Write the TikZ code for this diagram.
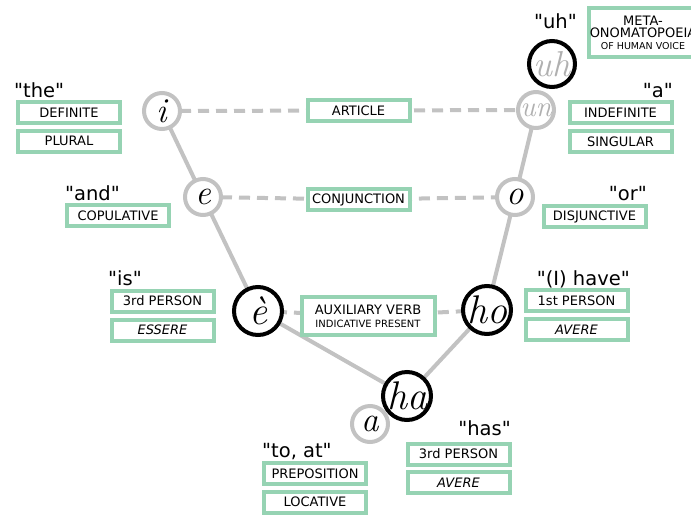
\documentclass[tikz,border=0pt]{standalone}
\usepackage{fontspec}
\defaultfontfeatures[\sffamily]{}
\setsansfont{DejaVu Sans}
\newfontfamily\qfont{DejaVu Sans}
\definecolor{boxgreen}{HTML}{96D3B3}
\definecolor{linegray}{HTML}{C2C2C2}
\definecolor{txtgray}{HTML}{B0B0B0}
\pgfdeclarelayer{bg}
\pgfsetlayers{bg,main}
\tikzset{
  wordbox/.style={draw=boxgreen, line width=4pt, fill=white, minimum width=102pt, minimum height=21pt, inner sep=0pt, font=\sffamily\fontsize{13}{14}\selectfont},
  quote/.style={font=\qfont\fontsize{19.5}{22}\selectfont, inner sep=0pt},
  gcirc/.style={circle, draw=linegray, line width=4pt, fill=white, minimum size=36pt, inner sep=0pt},
  bcirc/.style={circle, draw=black, line width=4pt, fill=white, minimum size=48pt, inner sep=0pt},
  gletter/.style={font=\fontsize{35}{35}\selectfont\itshape, inner sep=0pt},
  bletter/.style={font=\fontsize{40}{40}\selectfont\itshape, inner sep=0pt},
  solidline/.style={draw=linegray, line width=4pt},
  dashline/.style={draw=linegray, line width=4pt, dash pattern=on 11pt off 7pt},
}
\begin{document}
\begin{tikzpicture}[x=1pt,y=-1pt]
\useasboundingbox (0,0) rectangle (691,515);

% circles
\node[gcirc, label={[gletter]center:i}] (i) at (162,111) {};
\node[gcirc, label={[gletter]center:e}] (e) at (203,197) {};
\node[bcirc, label={[bletter]center:è}] (egrave) at (258,311) {};
\node[gcirc, label={[gletter]center:a}] (a) at (370,424) {};
\node[bcirc, label={[bletter]center:ha}] (ha) at (407,396) {};
\node[gcirc, label={[gletter, font=\fontsize{29}{29}\selectfont\itshape, text=txtgray]center:un}] (un) at (536,110) {};
\node[bcirc, minimum size=46pt, label={[gletter, font=\fontsize{36}{36}\selectfont\itshape, text=txtgray]center:uh}] (uh) at (552,64) {};
\node[gcirc, label={[gletter]center:o}] (o) at (515,197) {};
\node[bcirc, label={[bletter]center:ho}] (ho) at (487,310) {};

% middle boxes
\node[wordbox] (article) at (358.5,110.5) {ARTICLE};
\node[wordbox] (conj) at (358.5,199.5) {CONJUNCTION};
\node[wordbox, minimum width=133pt, minimum height=38pt, align=center] (aux) at (368,316)
  {\fontsize{13}{14}\selectfont AUXILIARY VERB\\[-1pt]\fontsize{10}{11}\selectfont INDICATIVE PRESENT};

% connectors
\begin{pgfonlayer}{bg}
\fill[white] (0,0) rectangle (691,515);
\draw[solidline] (i.center) -- (e.center) -- (egrave.center) -- (ha.center);
\draw[solidline] (un.center) -- (o.center) -- (ho.center) -- (ha.center);
\draw[dashline] (i.center) -- (article.center) -- (un.center);
\draw[dashline] (e.center) -- (conj.center) -- (o.center);
\draw[dashline] (egrave.center) -- (aux.center) -- (ho.center);
\end{pgfonlayer}

% left side
\node[quote, anchor=base west] (the) at (14,97) {"the"};
\node[wordbox] (definite) at (69,112.5) {DEFINITE};
\node[wordbox] (plural) at (69,141) {PLURAL};
\node[quote, anchor=base west] (and) at (65,200) {"and"};
\node[wordbox] (copul) at (118,215.5) {COPULATIVE};
\node[quote, anchor=base west] (is) at (108,285) {"is"};
\node[wordbox] (third1) at (162.5,301) {3rd PERSON};
\node[wordbox, font=\sffamily\itshape\fontsize{13}{14}\selectfont] (essere) at (162.5,330) {ESSERE};

% right side
\node[quote, anchor=base east] (uhq) at (577,28) {"uh"};
\node[wordbox, minimum width=108pt, minimum height=49pt, align=center, anchor=west] (meta) at (587,32.5)
  {META-\\[-2pt]ONOMATOPOEIA\\[-2pt]\fontsize{9.5}{10}\selectfont OF HUMAN VOICE};
\node[quote, anchor=base east] (aq) at (673,97) {"a"};
\node[wordbox] (indef) at (620.5,112.5) {INDEFINITE};
\node[wordbox] (sing) at (620.5,141.5) {SINGULAR};
\node[quote, anchor=base east] (orq) at (647,200) {"or"};
\node[wordbox] (disj) at (594.5,216.5) {DISJUNCTIVE};
\node[quote, anchor=base east] (have) at (630,285) {"(I) have"};
\node[wordbox] (first) at (576.5,300.5) {1st PERSON};
\node[wordbox, font=\sffamily\itshape\fontsize{13}{14}\selectfont] (avere1) at (576.5,329.5) {AVERE};

% bottom
\node[quote, anchor=base west] (toat) at (262,457) {"to, at"};
\node[wordbox] (prep) at (315,473.5) {PREPOSITION};
\node[wordbox] (loc) at (315,502) {LOCATIVE};
\node[quote, anchor=base east] (has) at (511,435) {"has"};
\node[wordbox] (third2) at (458.5,454) {3rd PERSON};
\node[wordbox, font=\sffamily\itshape\fontsize{13}{14}\selectfont] (avere2) at (458.5,482.5) {AVERE};
\end{tikzpicture}
\end{document}
